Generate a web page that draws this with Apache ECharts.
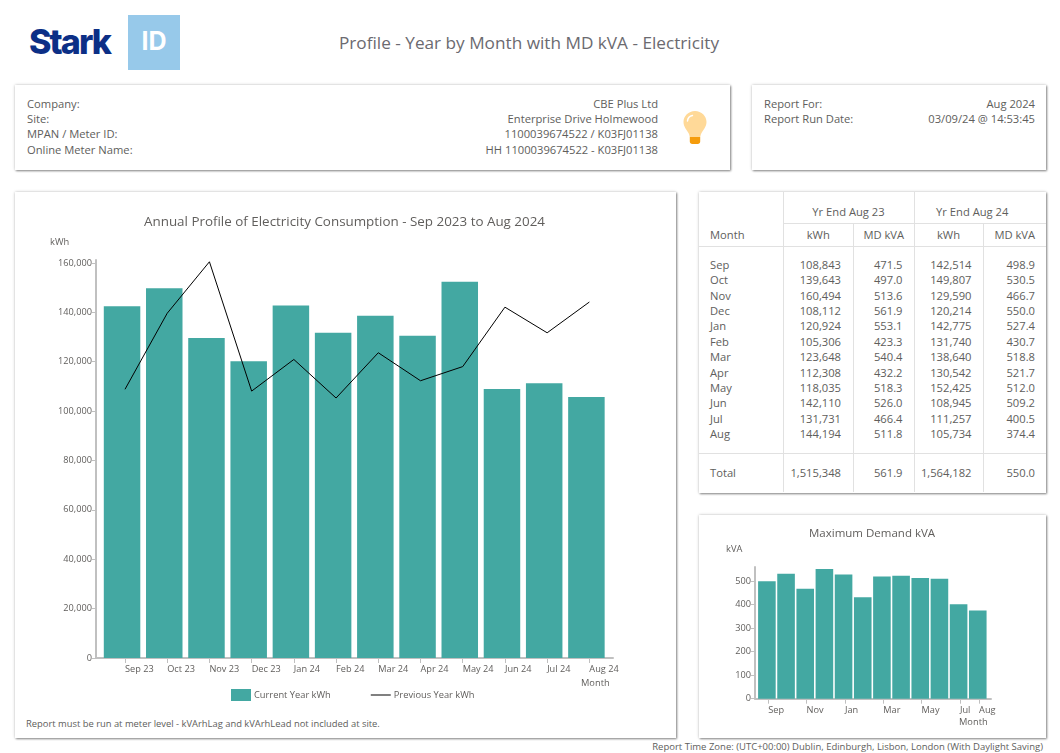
<!DOCTYPE html>
<html><head><meta charset="utf-8">
<script src="https://cdn.jsdelivr.net/npm/echarts@6/dist/echarts.min.js"></script>
<style>
html,body{margin:0;padding:0;background:#fff;width:1060px;height:753px;overflow:hidden}
body{font-family:"Open Sans",sans-serif;color:#605e5c;font-size:11.2px;position:relative}
.p{position:absolute;background:#fff;box-sizing:border-box;box-shadow:0 0 3px rgba(0,0,0,.22),1px 1px 2px rgba(0,0,0,.42)}
.t{position:absolute;white-space:nowrap;line-height:15.4px}
.r{text-align:right}
#chart{position:absolute;left:0;top:0;width:1060px;height:753px}
table{position:absolute;left:0;top:0;border-collapse:collapse;table-layout:fixed;width:347px;font-size:11.2px}
td,th{font-weight:400;padding:0;border-right:1px solid #e1e1e1;text-align:right;white-space:nowrap;line-height:15.36px}
tr>*:last-child{border-right:0}
.m{text-align:left;padding-left:11px}
.c{text-align:center}
</style></head><body>
<div class="t" style="left:29px;top:20px;font-family:Inter,sans-serif;font-size:34px;line-height:44px;font-weight:800;color:#0c2f86;letter-spacing:-1.9px">Stark</div>
<div style="position:absolute;left:128px;top:15px;width:52px;height:55px;background:#97c9ea;color:#fff;font-family:Inter,sans-serif;font-weight:700;font-size:25px;line-height:53px;text-align:center">ID</div>
<div class="t c" style="left:229px;width:600px;top:30px;font-size:17.2px;line-height:26px;color:#6b6a70">Profile - Year by Month with MD kVA - Electricity</div>

<div class="p" style="left:15px;top:85px;width:715px;height:85px"></div>
<div class="t" id="infoL" style="left:27px;top:95.5px"></div>
<div class="t r" id="infoR" style="right:402px;top:95.5px"></div>
<svg style="position:absolute;left:682px;top:110px" width="26" height="35" viewBox="0 0 26 35">
<path d="M13 1C6.5 1 1.500 6 1.500 12c0 4.500 3 7.500 5 11 1 1.800 1 3.500 1.300 4h10.400c.3-.5.3-2.200 1.300-4 2-3.500 5-6.500 5-11C24.500 6 19.500 1 13 1z" fill="#ffd998"/>
<path d="M5.500 11c.3-3 2.300-5 5-5.500" fill="none" stroke="#fff" stroke-width="1.500" stroke-linecap="round"/>
<path d="M7.800 27h10.400v4.500c0 1.500-1 2.500-2.500 2.500h-5.400c-1.500 0-2.500-1-2.500-2.500z" fill="#f59c0c"/></svg>

<div class="p" style="left:752px;top:85px;width:294px;height:85px"></div>
<div class="t" id="runL" style="left:764px;top:95.5px"></div>
<div class="t r" id="runR" style="right:25px;top:95.5px"></div>

<div class="p" style="left:15px;top:192px;width:661px;height:546px"></div>
<div class="t" id="note" style="left:26px;top:716px;font-size:9.4px"></div>

<div class="p" style="left:699px;top:192px;width:347px;height:301px"><table id="tbl"></table></div>
<div class="p" style="left:699px;top:515px;width:347px;height:223px"></div>
<div class="t r" id="foot" style="right:17px;top:739px;font-size:9.5px"></div>
<div id="chart"></div>
<script>
const axisMonths = ['Sep 23','Oct 23','Nov 23','Dec 23','Jan 24','Feb 24','Mar 24','Apr 24','May 24','Jun 24','Jul 24','Aug 24'];
const months = ['Sep','Oct','Nov','Dec','Jan','Feb','Mar','Apr','May','Jun','Jul','Aug'];
const currentKwh = [142514,149807,129590,120214,142775,131740,138640,130542,152425,108945,111257,105734];
const previousKwh = [108843,139643,160494,108112,120924,105306,123648,112308,118035,142110,131731,144194];
const currentMd = [498.9,530.5,466.7,550.0,527.4,430.7,518.8,521.7,512.0,509.2,400.5,374.4];
const previousMd = [471.5,497.0,513.6,561.9,553.1,423.3,540.4,432.2,518.3,526.0,466.4,511.8];
const kwhTicks = [0,20000,40000,60000,80000,100000,120000,140000,160000];
const mdTicks = [0,100,200,300,400,500];
const mdLabelIdx = [0,2,4,6,8,10,11];
const infoLabels = ['Company:','Site:','MPAN / Meter ID:','Online Meter Name:'];
const infoValues = ['CBE Plus Ltd','Enterprise Drive Holmewood','1100039674522 / K03FJ01138','HH 1100039674522 - K03FJ01138'];
const runLabels = ['Report For:','Report Run Date:'];
const runValues = ['Aug 2024','03/09/24 @ 14:53:45'];
const totals = ['1,515,348','561.9','1,564,182','550.0'];
const noteText = 'Report must be run at meter level - kVArhLag and kVArhLead not included at site.';
const footText = 'Report Time Zone: (UTC+00:00) Dublin, Edinburgh, Lisbon, London (With Daylight Saving)';

const $ = id => document.getElementById(id);
$('infoL').innerHTML = infoLabels.join('<br>');
$('infoR').innerHTML = infoValues.join('<br>');
$('runL').innerHTML = runLabels.join('<br>');
$('runR').innerHTML = runValues.join('<br>');
$('note').textContent = noteText;
$('foot').textContent = footText;

const fmt = n => n.toLocaleString('en-GB');
let rows = '<colgroup><col style="width:84px"><col style="width:70.5px"><col style="width:60.5px"><col style="width:69px"><col style="width:63px"></colgroup>';
rows += '<tr style="height:31px"><th></th><th class="c" colspan="2" style="border-bottom:1px solid #e1e1e1;padding-top:8px">Yr End Aug 23</th><th class="c" colspan="2" style="border-bottom:1px solid #e1e1e1;padding-top:8px;padding-right:16px">Yr End Aug 24</th></tr>';
rows += '<tr style="height:23px;border-bottom:1px solid #e1e1e1"><th class="m">Month</th><th class="c">kWh</th><th class="c">MD kVA</th><th class="c">kWh</th><th class="c">MD kVA</th></tr>';
rows += '<tr style="height:11px"><td></td><td></td><td></td><td></td><td></td></tr>';
months.forEach((m,i)=>{
  rows += `<tr style="height:15.36px"><td class="m">${m}</td><td style="padding-right:12px">${fmt(previousKwh[i])}</td><td style="padding-right:11px">${previousMd[i].toFixed(1)}</td><td style="padding-right:11px">${fmt(currentKwh[i])}</td><td style="padding-right:11px">${currentMd[i].toFixed(1)}</td></tr>`;
});
rows += '<tr style="height:12px;border-bottom:1px solid #e1e1e1"><td></td><td></td><td></td><td></td><td></td></tr>';
rows += `<tr style="height:39px"><td class="m">Total</td><td style="padding-right:12px">${totals[0]}</td><td style="padding-right:11px">${totals[1]}</td><td style="padding-right:11px">${totals[2]}</td><td style="padding-right:11px">${totals[3]}</td></tr>`;
$('tbl').innerHTML = rows;

const FONT = '"Open Sans", sans-serif';
const GREY = '#c0c0c0', TXT = '#605e5c', TEAL = '#43a8a2';
const label = (left, top, text, size) => ({left, top, text, padding:0, textStyle:{fontFamily:FONT, fontWeight:400, fontSize:size, color:TXT}});

const chart = echarts.init($('chart'), null, {renderer:'canvas'});
chart.setOption({
  animation:false,
  textStyle:{fontFamily:FONT},
  title:[
    label(144,216,'Annual Profile of Electricity Consumption - Sep 2023 to Aug 2024',13.4),
    label(50,238,'kWh',9.3),
    label(581,679,'Month',9.3),
    label(809,528,'Maximum Demand kVA',11.5),
    label(726,545,'kVA',9.3),
    label(959,718,'Month',9.3)
  ],
  legend:{left:231,top:689,padding:0,itemWidth:20,itemHeight:12,itemGap:40,selectedMode:false,
    textStyle:{fontSize:9.3,color:TXT,padding:[0,0,0,-2]},
    data:[{name:'Current Year kWh',icon:'rect'},{name:'Previous Year kWh',icon:'path://M0 5.500H20V6.500H0Z',itemStyle:{color:'#000'}}]},
  grid:[
    {left:96,top:260,width:517,height:398},
    {left:755,top:567,width:236,height:131.7}
  ],
  xAxis:[
    {type:'value',gridIndex:0,min:-0.687,max:11.56,splitLine:{show:false},
     axisLine:{show:true,onZero:false,lineStyle:{color:GREY,width:2}},
     axisTick:{show:true,customValues:months.map((m,i)=>i),length:5,lineStyle:{color:GREY}},
     axisLabel:{customValues:months.map((m,i)=>i),formatter:v=>axisMonths[v],align:'left',margin:7,fontSize:9.2,color:TXT,hideOverlap:false}},
    {type:'value',gridIndex:0,min:-0.617,max:11.63,show:false},
    {type:'value',gridIndex:1,min:-0.69,max:11.62,splitLine:{show:false},
     axisLine:{show:true,onZero:false,lineStyle:{color:GREY,width:2}},
     axisTick:{show:true,customValues:mdLabelIdx,length:5,lineStyle:{color:GREY}},
     axisLabel:{customValues:mdLabelIdx,formatter:v=>months[v],align:'left',margin:7,fontSize:9.2,color:TXT,hideOverlap:false}},
    {type:'value',gridIndex:1,min:-0.62,max:11.69,show:false}
  ],
  yAxis:[
    {type:'value',gridIndex:0,min:0,max:161215,splitLine:{show:false},
     axisLine:{show:true,onZero:false,lineStyle:{color:GREY,width:2}},
     axisTick:{show:true,customValues:kwhTicks,length:4,lineStyle:{color:GREY}},
     axisLabel:{customValues:kwhTicks,formatter:v=>v.toLocaleString('en-GB'),margin:4,fontSize:9.2,color:TXT}},
    {type:'value',gridIndex:1,min:0,max:559,splitLine:{show:false},
     axisLine:{show:true,onZero:false,lineStyle:{color:GREY,width:2}},
     axisTick:{show:true,customValues:mdTicks,length:4,lineStyle:{color:GREY}},
     axisLabel:{customValues:mdTicks,margin:4,fontSize:9.2,color:TXT}}
  ],
  series:[
    {name:'Current Year kWh',type:'bar',xAxisIndex:1,yAxisIndex:0,barWidth:36.5,silent:true,
     itemStyle:{color:TEAL},data:currentKwh.map((v,i)=>[i,v])},
    {name:'Previous Year kWh',type:'line',xAxisIndex:0,yAxisIndex:0,symbol:'none',silent:true,
     lineStyle:{color:'#000',width:1},itemStyle:{color:'#000'},data:previousKwh.map((v,i)=>[i,v]),z:5},
    {name:'Maximum Demand kVA',type:'bar',xAxisIndex:3,yAxisIndex:1,barWidth:17.6,silent:true,
     itemStyle:{color:TEAL},data:currentMd.map((v,i)=>[i,v])}
  ]
});
</script>
</body></html>
